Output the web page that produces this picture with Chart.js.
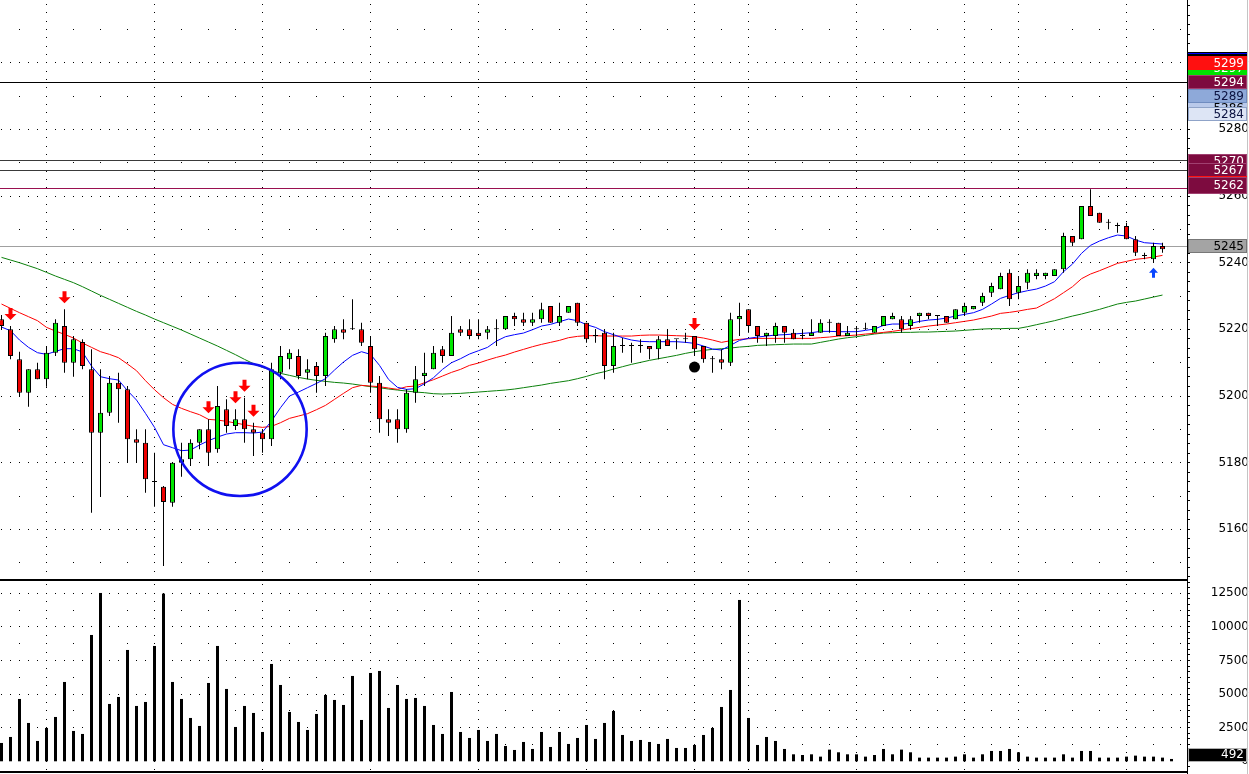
<!DOCTYPE html>
<html><head><meta charset="utf-8">
<script src="https://cdn.jsdelivr.net/npm/chart.js@4.4.1/dist/chart.umd.min.js"></script>
<style>
html,body{margin:0;padding:0;background:#fff;width:1249px;height:774px;overflow:hidden}
#pbox{position:absolute;left:0;top:0;width:1249px;height:579px}
#vbox{position:absolute;left:0;top:579px;width:1249px;height:195px}
</style></head><body>
<div id="pbox"><canvas id="pc"></canvas></div>
<div id="vbox"><canvas id="vc"></canvas></div>
<script>
// ---------------- data ----------------
const opens = [5223,5220,5211,5201,5208,5205,5213,5221,5210,5216.2,
5208,5189,5195,5204,5202,5187,5186,5174.2,5172.8,5168,
5180,5181,5186,5190,5184,5196,5191,5193,5190,5189,
5187,5207,5211,5212,5207,5209,5206,5217,5220,5220,
5220,5215,5204,5193,5193,5190,5201,5206,5208,5214,
5212,5220,5220,5219,5219,5220,5220,5224,5223,5222,
5223,5227,5222,5225,5228,5222,5218,5219,5209,5215,
5215,5215,5215,5214,5217,5217,5217,5218,5215,5211,
5211,5210,5223,5226,5221,5218,5218,5221,5219,5218,
5218,5219,5222,5222,5218,5220,5220,5219,5221,5223,
5223,5221,5224,5225,5224,5224,5223,5225,5226,5228,
5231,5232,5237,5231,5234,5236,5236,5236,5238,5248,
5247,5257,5255,5252,5251,5251,5247,5242,5241,5245];
const highs = [5224.3,5221,5213.3,5208,5210,5215,5223,5226,5218,5217,
5214,5208,5206,5207,5203,5190,5190,5183,5173,5180,
5186,5187,5190,5193,5203,5199,5196,5199.5,5192,5190,
5210,5215,5214,5214,5211,5210,5219,5221,5223,5229,
5222,5218,5206,5196,5196,5202,5209,5213,5215,5215,
5224,5221,5223,5223,5221,5223,5224,5225,5225,5225,
5228,5227,5228,5227,5228,5222,5220,5220,5219,5217.5,
5216,5217,5215,5218,5220,5217,5219,5218,5215,5212,
5214,5225,5228,5226,5221,5219,5222,5221,5220,5220,
5223,5223,5223,5222,5221,5221,5222,5221,5224,5225,
5224,5224,5225,5225,5224,5224,5226,5228,5227,5231,
5234,5237,5238,5236,5238,5238,5237,5238,5249,5248,
5257,5262,5255,5253,5252,5252,5248,5243,5246,5246];
const lows = [5219.8,5211,5199.8,5196.8,5205,5202.8,5212,5207,5205.8,5208,
5165,5170,5194,5192,5180,5180,5171,5166.8,5149,5166.8,
5175.8,5179,5184,5179,5183,5189,5190,5186,5182,5183,
5185,5205,5208,5205,5205,5201,5203,5216,5217,5220,
5215,5201,5189,5188,5186,5189,5198,5203,5208,5210,
5212,5218,5217,5217,5217,5215,5220,5221,5221,5221,
5222,5222,5221,5225,5221,5216,5216,5205,5207,5213,
5210,5213,5211,5211,5215,5214,5216,5212,5210,5207,
5208,5209,5218,5219,5216,5215,5216,5216,5217,5217,
5218,5219,5219,5218,5218,5218,5220,5219,5221,5223,
5219,5220,5222,5223,5221,5222,5223,5224,5226,5227,
5230,5232,5227,5229,5232,5235,5235,5236,5237,5245,
5247,5254,5252,5250,5249,5247,5242,5241,5240,5243];
const closes = [5221,5212,5201,5208,5205,5213,5222,5210,5217,5209,
5189,5195,5204,5202,5187,5186,5175,5174.2,5168.2,5180,
5181,5186,5190,5183,5197,5191,5193,5190,5189,5187,
5208,5212,5213,5206,5208,5206,5218,5220,5219,5220,
5216,5204,5193,5192,5190,5201,5205,5207,5213,5212,
5219,5219,5218,5218,5220,5220,5224,5223,5222,5223,
5226,5222,5224,5227,5222,5217,5218,5209,5215,5215,
5215,5215,5214,5217,5215,5217,5217,5214,5211,5211,
5210,5223,5224,5221,5218,5219,5221,5219,5217,5218,
5219,5222,5222,5218,5219,5220,5220,5221,5224,5224,
5220,5223,5225,5224,5224,5222,5226,5227,5227,5230,
5233,5236,5229,5233,5237,5237,5237,5238,5248,5246,
5257,5254,5252,5252,5251,5247,5243,5242,5245,5244];
const volumes = [1364,1810,4638,2852,1513,2480,3298,5902,2257,2034,
9399,12524,4266,4786,8283,4117,4414,8581,12474,5902,
4638,3224,2629,5828,8581,5382,2554,4117,3596,2182,
7242,5679,3670,2926,2331,3522,4935,4563,4191,6349,
3075,6572,6721,3968,5679,4638,4712,4117,2703,2034,
5158,2182,1736,2331,1513,2034,1141,843,1438,918,
2182,1066,2182,1290,1736,2703,1662,2852,3745,1959,
1513,1587,1438,1290,1662,992,992,1215,1959,2480,
4042,5307,12003,3224,1215,1810,1513,918,520,470,
520,347,868,670,520,520,347,470,918,520,
868,670,273,273,273,273,347,520,273,520,
769,769,918,670,347,273,273,273,520,273,
769,769,273,273,273,347,422,347,347,273,174];
const maFast = [5220.7,5219.6,5216.8,5214.6,5213.0,5212.5,5213.4,5214.2,5214.2,5213.2,
5209.0,5205.8,5205.2,5204.8,5201.6,5198.8,5194.8,5190.6,5185.4,5184.5,
5183.6,5183.8,5185.3,5186.6,5187.7,5188.6,5189.0,5189.0,5188.9,5189.2,
5192.5,5196.5,5200.0,5201.2,5202.5,5203.8,5205.2,5207.8,5210.2,5212.2,
5213.3,5212.5,5209.2,5205.0,5202.6,5202.0,5202.2,5203.7,5205.5,5208.0,
5210.0,5211.2,5212.6,5213.6,5214.6,5216.5,5217.8,5218.4,5218.9,5219.9,
5221.0,5221.5,5222.3,5223.1,5222.6,5221.4,5220.6,5219.3,5218.4,5217.5,
5216.8,5216.4,5216.3,5216.3,5216.3,5216.3,5216.1,5215.8,5215.0,5214.1,
5213.8,5215.2,5216.7,5217.3,5217.7,5218.0,5218.3,5218.4,5218.6,5218.8,
5219.0,5219.4,5219.4,5219.3,5219.3,5219.3,5219.7,5220.1,5221.2,5221.6,
5221.6,5221.8,5222.4,5222.8,5223.0,5223.4,5224.0,5224.5,5225.0,5226.0,
5227.6,5229.3,5230.2,5231.0,5231.6,5232.1,5233.0,5234.3,5237.3,5239.6,
5242.8,5245.2,5246.5,5247.5,5248.3,5248.0,5246.8,5246.0,5245.8,5245.6];
const maMid = [5227.6,5226.3,5225.0,5223.8,5222.6,5220.6,5219.5,5218.5,5217.4,5215.9,
5214.6,5213.3,5212.5,5211.5,5209.6,5207.6,5204.6,5201.9,5199.5,5197.5,
5196.3,5195.3,5194.4,5193.0,5192.8,5192.4,5191.9,5191.4,5190.9,5190.6,
5190.9,5192.0,5193.3,5194.0,5194.7,5195.9,5197.2,5199.0,5200.8,5202.5,
5203.2,5203.0,5202.8,5202.4,5202.0,5202.8,5203.0,5204.0,5204.9,5206.0,
5207.1,5208.0,5209.2,5209.9,5210.8,5211.6,5212.3,5213.2,5214.0,5214.8,
5215.5,5216.1,5216.7,5217.5,5217.9,5218.1,5218.1,5218.0,5218.0,5218.0,
5218.0,5218.2,5218.3,5218.3,5218.2,5218.1,5218.0,5217.8,5217.4,5216.8,
5216.1,5216.6,5217.0,5217.2,5217.3,5217.3,5217.3,5217.3,5217.3,5217.3,
5217.3,5217.5,5217.7,5218.0,5218.1,5218.3,5218.6,5218.8,5219.1,5219.4,
5219.8,5220.2,5220.6,5221.0,5221.3,5221.6,5222.0,5222.4,5222.8,5223.4,
5224.0,5224.8,5225.1,5225.5,5226.0,5226.4,5227.8,5229.2,5231.0,5232.8,
5235.2,5236.6,5237.6,5238.7,5239.8,5240.4,5241.0,5241.3,5241.7,5242.2];
const maSlow = [5241.6,5240.8,5240.0,5239.1,5238.2,5237.1,5236.0,5235.0,5234.0,5232.8,
5231.5,5230.2,5229.0,5227.8,5226.6,5225.4,5224.3,5223.1,5222.0,5220.9,
5219.8,5218.6,5217.4,5216.2,5215.0,5213.7,5212.4,5211.0,5209.7,5208.6,
5207.7,5206.8,5206.2,5205.6,5205.1,5204.7,5204.4,5204.1,5203.9,5203.6,
5203.2,5202.8,5202.5,5202.1,5201.8,5201.5,5201.2,5201.0,5200.7,5200.6,
5200.7,5200.8,5201.0,5201.2,5201.4,5201.6,5201.8,5202.1,5202.5,5202.9,
5203.3,5203.8,5204.2,5204.6,5205.2,5205.9,5206.7,5207.3,5208.1,5208.8,
5209.5,5210.1,5210.7,5211.2,5211.7,5212.2,5212.8,5213.3,5213.7,5214.0,
5214.2,5214.4,5214.7,5214.9,5215.2,5215.3,5215.4,5215.5,5215.6,5215.6,
5215.6,5216.1,5216.6,5217.1,5217.5,5217.8,5218.2,5218.6,5218.9,5219.0,
5219.1,5219.1,5219.2,5219.2,5219.3,5219.4,5219.5,5219.7,5219.9,5220.1,
5220.2,5220.2,5220.3,5220.3,5220.8,5221.4,5222.0,5222.6,5223.3,5224.0,
5224.6,5225.3,5226.0,5226.8,5227.6,5228.1,5228.5,5229.1,5229.7,5230.3];
const priceTicks = [5160,5180,5200,5220,5240,5260,5280,5300];
const volumeTicks = [0,2500,5000,7500,10000,12500];
const gridCandles = [6,18,30,42,54,66,78,84,96,108,114,126];
const levelValues = [5294,5270.75,5267.75,5262.25,5244.75];
const sellSignals = [2,8,24,27,28,29,78];
const buySignals = [129];
const dotSignals = [78];
const circleCandle = 27.5, circlePrice = 5190, circleRadiusPts = 20;
const tagValues = [5302.5,5298.4,5286.4,5299.9,5294.2,5290.0,5284.5,5270.5,5267.7,5263.9,5263.2,5244.9];
const tagTexts  = ['','5297','5286','5299','5294','5289','5284','5270','5267','5264','5262','5245'];
const volumeTagValue = 492;

// ---------------- styles ----------------
const GREEN = '#00e600', RED = '#ee0000';
const levelColors = ['#000000','#3a3a3a','#3a3a3a','#9a1050','#a0a0a0'];
const tagStyles = [
  {bg:'#000000',fg:'#ffffff',h:4,top:'#0000ff'},
  {bg:'#00e000',fg:'#ffffff',h:14},
  {bg:'#b9c9ea',fg:'#000000',h:14},
  {bg:'#ff1010',fg:'#ffffff',h:14},
  {bg:'#7d0b3f',fg:'#ffffff',h:14,bd:'#a04070'},
  {bg:'#8ea9d9',fg:'#0b1240',h:14,bd:'#6f8cc0'},
  {bg:'#dde5f5',fg:'#0b1240',h:14,bd:'#8fa3c8'},
  {bg:'#7d0b3f',fg:'#ffffff',h:14,bd:'#a04070'},
  {bg:'#7d0b3f',fg:'#ffffff',h:14,bd:'#a04070'},
  {bg:'#ff1010',fg:'#ffffff',h:14},
  {bg:'#7d0b3f',fg:'#ffffff',h:17,bd:'#a04070'},
  {bg:'#a4a4a4',fg:'#000000',h:14,bd:'#777777'}
];
const X_MIN = 1 - 1.5/9, X_MAX = X_MIN + 1187/9;
const FONT = {family:'"DejaVu Sans", sans-serif', size:12};

function drawTag(ctx, x0, x1, yc, st, text){
  const top = Math.round(yc - st.h/2);
  ctx.fillStyle = st.bg; ctx.fillRect(x0, top, x1-x0, st.h);
  if (st.bd){ ctx.strokeStyle = st.bd; ctx.lineWidth = 1; ctx.strokeRect(x0+0.5, top+0.5, x1-x0-1, st.h-1); }
  if (st.top){ ctx.fillStyle = st.top; ctx.fillRect(x0, top+1, x1-x0, 1); }
  if (text){
    ctx.fillStyle = st.fg; ctx.font = '12px "DejaVu Sans", sans-serif';
    ctx.textAlign = 'right'; ctx.textBaseline = 'middle';
    ctx.fillText(text, 1244, yc + 0.5);
  }
}
function dotGrid(chart, dense, sparse, vStep){
  const {ctx, chartArea:a, scales:{x, y}} = chart;
  ctx.save(); ctx.fillStyle = '#000';
  const kMax = Math.floor(x.max);
  const rows = (vals, every) => {
    for (const v of vals){
      const py = Math.floor(y.getPixelForValue(v));
      if (py < a.top || py >= a.bottom) continue;
      for (let k = every; k <= kMax; k += every){
        const px = Math.floor(x.getPixelForValue(k));
        if (px >= a.left && px < a.right) ctx.fillRect(px, py, 1, 1);
      }
    }
  };
  rows(dense, 1); rows(sparse, 3);
  for (const k of gridCandles){
    const px = Math.floor(x.getPixelForValue(k));
    for (let v = Math.ceil(y.min / vStep) * vStep; v <= y.max; v += vStep){
      const py = Math.floor(y.getPixelForValue(v));
      if (py >= a.top && py < a.bottom) ctx.fillRect(px, py, 1, 1);
    }
  }
  ctx.restore();
}
function axisDecor(chart, step){
  const {ctx, chartArea:a, scales:{y}} = chart;
  ctx.save(); ctx.fillStyle = '#000';
  ctx.fillRect(a.right, 0, 1, chart.height);
  for (let v = Math.ceil(y.min/step)*step; v <= y.max; v += step){
    const py = Math.floor(y.getPixelForValue(v));
    if (py >= a.top && py < a.bottom) ctx.fillRect(a.right, py, 3, 1);
  }
  ctx.fillStyle = '#c4c4c4'; ctx.fillRect(1247, 0, 1, chart.height);
  ctx.restore();
}

const priceDecor = {
  id:'priceDecor',
  beforeDatasetsDraw(chart){
    const dense = [], sparse = [];
    for (let v = 5140; v <= 5320; v += 20){ dense.push(v); sparse.push(v + 10); }
    dotGrid(chart, dense, sparse, 2.5);
    const {ctx, chartArea:a, scales:{y}} = chart;
    ctx.save();
    levelValues.forEach((v, i) => {
      const py = Math.floor(y.getPixelForValue(v));
      ctx.fillStyle = levelColors[i]; ctx.fillRect(a.left, py, a.right - a.left, 1);
    });
    ctx.restore();
  },
  afterDatasetsDraw(chart){
    const {ctx, chartArea:a, scales:{x, y}} = chart;
    ctx.save();
    ctx.beginPath(); ctx.rect(a.left, a.top, a.right-a.left, a.bottom-a.top); ctx.clip();
    ctx.fillStyle = '#ff0000';
    for (const k of sellSignals){
      const cx = x.getPixelForValue(k), tip = y.getPixelForValue(highs[k-1]) - 6;
      ctx.beginPath();
      ctx.moveTo(cx-2, tip-12); ctx.lineTo(cx+2, tip-12); ctx.lineTo(cx+2, tip-6);
      ctx.lineTo(cx+6, tip-6); ctx.lineTo(cx, tip); ctx.lineTo(cx-6, tip-6); ctx.lineTo(cx-2, tip-6);
      ctx.closePath(); ctx.fill();
    }
    ctx.fillStyle = '#0a46ff';
    for (const k of buySignals){
      const cx = x.getPixelForValue(k), tip = y.getPixelForValue(lows[k-1]) + 5;
      ctx.beginPath();
      ctx.moveTo(cx, tip); ctx.lineTo(cx+4.5, tip+5); ctx.lineTo(cx+1.5, tip+5); ctx.lineTo(cx+1.5, tip+10);
      ctx.lineTo(cx-1.5, tip+10); ctx.lineTo(cx-1.5, tip+5); ctx.lineTo(cx-4.5, tip+5);
      ctx.closePath(); ctx.fill();
    }
    ctx.fillStyle = '#000';
    for (const k of dotSignals){
      const cx = x.getPixelForValue(k), cy = y.getPixelForValue(lows[k-1]) + 11;
      ctx.beginPath(); ctx.arc(cx, cy, 5.5, 0, Math.PI*2); ctx.fill();
    }
    const ccx = x.getPixelForValue(circleCandle), ccy = y.getPixelForValue(circlePrice);
    const r = Math.abs(y.getPixelForValue(circlePrice + circleRadiusPts) - ccy);
    ctx.strokeStyle = '#1010f0'; ctx.lineWidth = 2.6;
    ctx.beginPath(); ctx.arc(ccx, ccy, r, 0, Math.PI*2); ctx.stroke();
    ctx.restore();
  },
  afterDraw(chart){
    axisDecor(chart, 20/7);
    const {ctx, chartArea:a, scales:{y}} = chart;
    ctx.save();
    tagValues.forEach((v, i) => drawTag(ctx, a.right + 1, 1247, y.getPixelForValue(v), tagStyles[i], tagTexts[i]));
    ctx.restore();
  }
};

const volDecor = {
  id:'volDecor',
  beforeDatasetsDraw(chart){
    const dense = [2500,5000,7500,10000,12500], sparse = [1250,3750,6250,8750,11250];
    dotGrid(chart, dense, sparse, 625);
  },
  afterDraw(chart){
    axisDecor(chart, 2500/6);
    const {ctx, chartArea:a, scales:{y}} = chart;
    ctx.save();
    ctx.fillStyle = '#000';
    ctx.fillRect(0, 0, a.right + 1, 2);
    ctx.fillRect(0, a.bottom, a.right + 1, 2);
    drawTag(ctx, a.right + 1, 1247, y.getPixelForValue(volumeTagValue), {bg:'#000000', fg:'#ffffff', h:14, bd:'#b0b0b0'}, String(volumeTagValue));
    ctx.restore();
  }
};

const idx = opens.map((_, i) => i + 1);
const wickData = idx.map((k, i) => ({x:k, y:[lows[i], highs[i]]}));
const bodyData = idx.map((k, i) => ({x:k, y:[opens[i], closes[i]]}));
const line = (arr) => idx.map((k, i) => ({x:k, y:arr[i]}));

function yAxis(min, max, ticks, width, pad){
  return {
    position:'right', min, max,
    grid:{display:false}, border:{display:false},
    afterBuildTicks: s => { s.ticks = ticks.map(v => ({value:v})); },
    afterFit: s => { s.width = width; s.paddingTop = 0; s.paddingBottom = 0; },
    ticks:{crossAlign:'far', padding:pad, color:'#000', font:FONT, autoSkip:false, callback: v => String(v)}
  };
}
const xAxis = {type:'linear', min:X_MIN, max:X_MAX, offset:false, display:false, grid:{offset:false}};
const common = {
  responsive:true, maintainAspectRatio:false, animation:false, devicePixelRatio:1,
  plugins:{legend:{display:false}, tooltip:{enabled:false}},
  events:[]
};

new Chart(document.getElementById('pc'), {
  type:'bar',
  data:{datasets:[
    {type:'line', data:line(maSlow), borderColor:'#0b800b', borderWidth:1, pointRadius:0, order:4},
    {type:'line', data:line(maMid), borderColor:'#ff0000', borderWidth:1, pointRadius:0, order:3},
    {type:'line', data:line(maFast), borderColor:'#0000ff', borderWidth:1, pointRadius:0, order:2},
    {type:'bar', data:wickData, backgroundColor:'#000', borderWidth:0, barThickness:1, grouped:false, inflateAmount:0, order:1},
    {type:'bar', data:bodyData, backgroundColor:c => closes[c.dataIndex] >= opens[c.dataIndex] ? GREEN : RED,
      borderColor:'#000', borderWidth:1, borderSkipped:false, barThickness:5, grouped:false, inflateAmount:0, minBarLength:1, order:0}
  ]},
  options:Object.assign({}, common, {
    layout:{padding:0},
    scales:{
      x:xAxis,
      y:yAxis(5145.11, 5318.81, priceTicks, 62, 26)
    }
  }),
  plugins:[priceDecor]
});

new Chart(document.getElementById('vc'), {
  type:'bar',
  data:{datasets:[
    {data:volumes.map((v, i) => ({x:i+1, y:v})), backgroundColor:'#000', borderWidth:0, barThickness:3, inflateAmount:0, grouped:false}
  ]},
  options:Object.assign({}, common, {
    layout:{padding:{top:2, bottom:3, left:0, right:0}},
    scales:{
      x:xAxis,
      y:yAxis(-722, 13414, volumeTicks, 62, 19)
    }
  }),
  plugins:[volDecor]
});
</script>
</body></html>
